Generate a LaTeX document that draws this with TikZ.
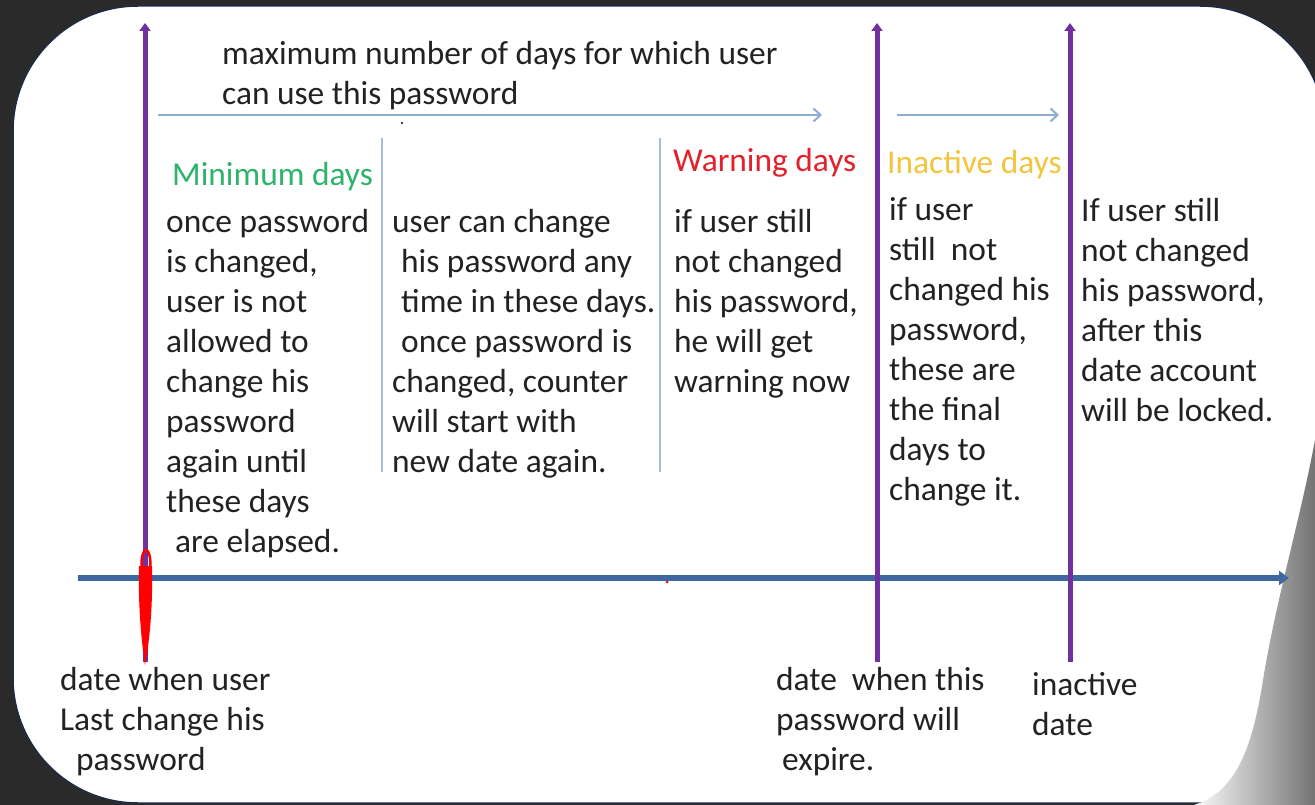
\documentclass[tikz,border=0pt]{standalone}
\usepackage{fontspec}
\setmainfont{Carlito}
\usetikzlibrary{arrows.meta}
\definecolor{slidebg}{HTML}{2A2A2A}
\definecolor{slideedge}{HTML}{1E2B45}
\definecolor{pwpurple}{HTML}{7030A0}
\definecolor{axisblue}{HTML}{3F67A0}
\definecolor{spanblue}{HTML}{8FADD3}
\definecolor{sepblue}{HTML}{A9BBD6}
\definecolor{mingreen}{HTML}{2DB36A}
\definecolor{warnred}{HTML}{E3212B}
\definecolor{inactgold}{HTML}{F2C53D}
\definecolor{bodytext}{HTML}{222222}
\begin{document}
\begin{tikzpicture}[x=1pt, y=-1pt,
    txt/.style={anchor=north west, inner sep=0pt, align=left, text=bodytext,
        font=\fontsize{33.4}{40}\selectfont, execute at begin node=\strut},
    dateline/.style={pwpurple, line width=5pt, -{Triangle[length=8pt,width=11pt]}},
    spanline/.style={spanblue, line width=2pt, -{Straight Barb[length=7pt,width=13pt]}},
    sepline/.style={sepblue, line width=1.5pt},
    timeline/.style={axisblue, line width=6.5pt, -{Triangle[length=10pt,width=14pt]}}]

        \useasboundingbox (0,0) rectangle (1315,805);
        \fill[slidebg] (0,0) rectangle (1315,805);
        \fill[white, draw=slideedge, line width=1.5pt, rounded corners=125pt] (13,6) rectangle (1325,803);
        \shade[left color=white, right color=black!55] (1315,440) .. controls (1300,520) and (1276,600) .. (1263,680)
            .. controls (1252,750) and (1235,795) .. (1190,806) -- (1315,806) -- cycle;

        \coordinate (topL) at (158,115);
        \coordinate (topR) at (822,115);
        \coordinate (inL) at (897,115);
        \coordinate (inR) at (1059,115);
        \draw[spanline] (topL) -- (topR);
        \draw[spanline] (inL) -- (inR);

        \coordinate (sepAtop) at (382,138);
        \coordinate (sepAbot) at (382,472);
        \coordinate (sepBtop) at (660,138);
        \coordinate (sepBbot) at (660,472);
        \draw[sepline] (sepAtop) -- (sepAbot);
        \draw[sepline] (sepBtop) -- (sepBbot);

        \coordinate (axisL) at (78,578);
        \coordinate (axisR) at (1289,578);
        \draw[timeline] (axisL) -- (axisR);

        \coordinate (lastBot) at (145,662);
        \coordinate (lastTop) at (145,23);
        \coordinate (expBot) at (877,662);
        \coordinate (expTop) at (877,23);
        \coordinate (inactBot) at (1070,662);
        \coordinate (inactTop) at (1070,23);
        \draw[dateline] (lastBot) -- (lastTop);
        \draw[dateline] (expBot) -- (expTop);
        \draw[dateline] (inactBot) -- (inactTop);

        \draw[red, line width=2.5pt] (146,564) ellipse (4.5 and 14);
        \fill[red] (139,566) .. controls (138,610) and (142,645) .. (145,665)
            .. controls (149,645) and (153,610) .. (152,566) -- cycle;
        \fill[red] (667,582) circle (1.5);
        \fill[black] (402,123) circle (1.2);

        \node[txt] (maxDays) at (222,41) {maximum number of days for which user\\can use this password};

        \node[txt, text=mingreen] (minHead) at (172,157) {Minimum days};
        \node[txt] (minText) at (166,209) {once password\\is changed,\\user is not\\allowed to\\change his\\password\\again until\\these days\\\hspace*{9pt}are elapsed.};
        \node[txt] (anyText) at (392,209) {user can change\\\hspace*{9pt}his password any\\\hspace*{9pt}time in these days.\\\hspace*{9pt}once password is\\changed, counter\\will start with\\new date again.};

        \node[txt, text=warnred] (warnHead) at (673,143) {Warning days};
        \node[txt] (warnText) at (674,209) {if user still\\not changed\\his password,\\he will get\\warning now};

        \node[txt, text=inactgold] (inactHead) at (887,145) {Inactive days};
        \node[txt] (inactText) at (889,197) {if user\\still\ \ not\\changed his\\password,\\these are\\the final\\days to\\change it.};
        \node[txt] (lockText) at (1081,198) {If user still\\not changed\\his password,\\after this\\date account\\will be locked.};

        \node[txt] (lastDate) at (60,667) {date when user\\Last change his\\\hspace*{16pt}password};
        \node[txt] (expireDate) at (776,667) {date\ \ when this\\password will\\\hspace*{6pt}expire.};
        \node[txt] (inactDate) at (1032,672) {inactive\\date};

    \end{tikzpicture}
\end{document}
